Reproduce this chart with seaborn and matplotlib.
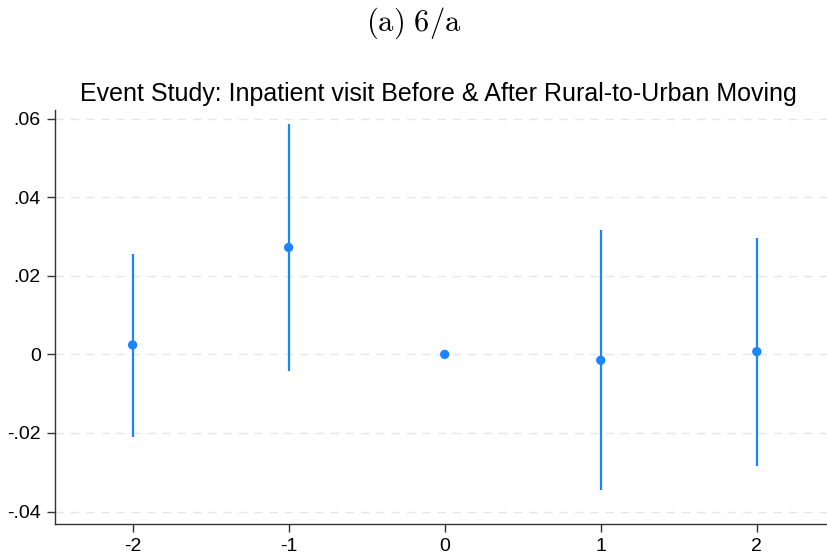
import numpy as np
import pandas as pd
import matplotlib
matplotlib.use("Agg")
import matplotlib.pyplot as plt
import seaborn as sns

# Event-time coefficients with 95% confidence bounds (period 0 is the reference)
event_time = [-2, -1, 0, 1, 2]
coef = [0.0024, 0.0272, 0.0, -0.0015, 0.0007]
ci_low = [-0.0209, -0.0043, np.nan, -0.0345, -0.0283]
ci_high = [0.0255, 0.0585, np.nan, 0.0316, 0.0295]
y_ticks = [-0.04, -0.02, 0.0, 0.02, 0.04, 0.06]
y_tick_labels = ["-.04", "-.02", "0", ".02", ".04", ".06"]

df = pd.DataFrame({"t": event_time, "b": coef, "lo": ci_low, "hi": ci_high})

sns.set_theme(style="white")
plt.rcParams["font.family"] = ["Liberation Sans", "DejaVu Sans"]
plt.rcParams["mathtext.fontset"] = "cm"
plt.rcParams["text.color"] = "black"

blue = "#1a85ff"

fig = plt.figure(figsize=(8.27, 5.56), dpi=100)
ax = fig.add_axes([0.066, 0.058, 0.934, 0.745])

for y in y_ticks:
    ax.axhline(y, color="#e6e6e6", lw=1.0, ls=(0, (6, 5)), zorder=0)

ci = df.dropna()
ax.vlines(ci["t"], ci["lo"], ci["hi"], color=blue, lw=1.6, zorder=2)
sns.scatterplot(data=df, x="t", y="b", color=blue, s=45, edgecolor="none",
                ax=ax, zorder=3)

ax.set_xlim(-2.5, 2.45)
ax.set_ylim(-0.0431, 0.0623)
ax.set_xticks(event_time)
ax.set_xticklabels([str(t) for t in event_time])
ax.set_yticks(y_ticks)
ax.set_yticklabels(y_tick_labels)
ax.set_xlabel("")
ax.set_ylabel("")
ax.tick_params(axis="both", direction="out", length=6, width=1.0,
               color="#333333", labelsize=14, pad=4, labelcolor="black")
ax.tick_params(axis="y", left=True)
ax.tick_params(axis="x", bottom=True)

for side in ["top", "right"]:
    ax.spines[side].set_visible(False)
for side in ["left", "bottom"]:
    ax.spines[side].set_color("#333333")
    ax.spines[side].set_linewidth(1.0)

ax.set_title("Event Study: Inpatient visit Before & After Rural-to-Urban Moving",
             fontsize=18, pad=6, x=0.497, color="black")

fig.text(0.5, 0.958, r"$\mathrm{(a)\ 6/a}$", ha="center", va="center",
         fontsize=22, color="black")

fig.savefig("out.png", dpi=100, facecolor="white")
